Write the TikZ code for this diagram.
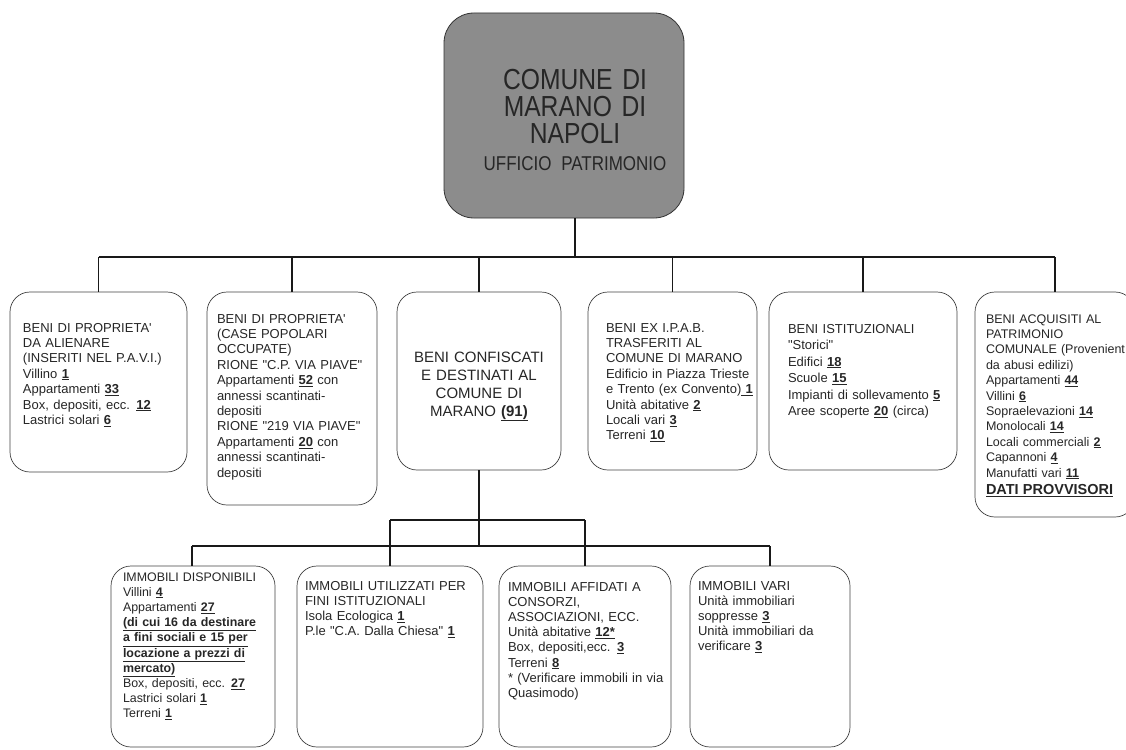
\documentclass[tikz,border=0pt]{standalone}
\usepackage{fontspec}
\setmainfont{Liberation Sans}[Ligatures=TeXOff]
\newfontfamily\titlefont{Liberation Sans}[FakeStretch=0.85, WordSpace=0.7]

\newcommand{\ubf}[1]{\underline{\textbf{#1}}}

\begin{document}
\begin{tikzpicture}[x=1pt, y=-1pt,
  every node/.style={inner sep=0pt, outer sep=0pt, text=black!85},
  rootbox/.style={draw=black!80, line width=0.8pt, rounded corners=30pt,
    fill=black!45, anchor=north west},
  levelbox/.style={draw=black!75, line width=0.7pt, rounded corners=20pt,
    anchor=north west},
  boxtext/.style={anchor=base west, align=left, text width=200pt,
    font=\fontsize{13}{15.4}\selectfont},
  link/.style={draw=black!90, line width=1.6pt}]

\useasboundingbox (0,0) rectangle (1126,749);

% root
\node[rootbox, minimum width=240, minimum height=205] (comune) at (444,13) {};
\node[anchor=base, align=center, text width=240pt,
  font=\titlefont\fontsize{29}{26.7}\selectfont] (comune-text) at (575,90)
  {COMUNE DI\\MARANO DI\\NAPOLI\\{\fontsize{20}{22}\selectfont UFFICIO PATRIMONIO}};

% first level
\node[levelbox, minimum width=177, minimum height=180] (alienare) at (10,292) {};
\node[boxtext] (alienare-text) at (23,332)
  {BENI DI PROPRIETA'\\DA ALIENARE\\(INSERITI NEL P.A.V.I.)\\Villino \ubf{1}\\
   Appartamenti \ubf{33}\\Box, depositi, ecc. \ubf{12}\\Lastrici solari \ubf{6}};

\node[levelbox, minimum width=170, minimum height=213] (popolari) at (207,292) {};
\node[boxtext] (popolari-text) at (217,323)
  {BENI DI PROPRIETA'\\(CASE POPOLARI\\OCCUPATE)\\RIONE "C.P. VIA PIAVE"\\
   Appartamenti \ubf{52} con\\annessi scantinati-\\depositi\\RIONE "219 VIA PIAVE"\\
   Appartamenti \ubf{20} con\\annessi scantinati-\\depositi};

\node[levelbox, minimum width=164, minimum height=178] (confiscati) at (397,292) {};
\node[anchor=base, align=center, text width=160pt,
  font=\fontsize{15}{18}\selectfont] (confiscati-text) at (479,362)
  {BENI CONFISCATI\\E DESTINATI AL\\COMUNE DI\\MARANO \ubf{(91)}};

\node[levelbox, minimum width=169, minimum height=178] (ipab) at (588,292) {};
\node[boxtext] (ipab-text) at (606,332)
  {BENI EX I.P.A.B.\\TRASFERITI AL\\COMUNE DI MARANO\\Edificio in Piazza Trieste\\
   e Trento (ex Convento)\underline{ \textbf{1}}\\Unità abitative \ubf{2}\\
   Locali vari \ubf{3}\\Terreni \ubf{10}};

\node[levelbox, minimum width=188, minimum height=178] (storici) at (769,292) {};
\node[boxtext, font=\fontsize{13}{16.5}\selectfont] (storici-text) at (788,333)
  {BENI ISTITUZIONALI\\"Storici"\\Edifici \ubf{18}\\Scuole \ubf{15}\\
   Impianti di sollevamento \ubf{5}\\Aree scoperte \ubf{20} (circa)};

\node[levelbox, minimum width=160, minimum height=225] (acquisiti) at (975,292) {};
\node[boxtext, font=\fontsize{12.5}{15.4}\selectfont] (acquisiti-text) at (986,323)
  {BENI ACQUISITI AL\\PATRIMONIO\\COMUNALE (Provenient\\da abusi edilizi)\\
   Appartamenti \ubf{44}\\Villini \ubf{6}\\Sopraelevazioni \ubf{14}\\Monolocali \ubf{14}\\
   Locali commerciali \ubf{2}\\Capannoni \ubf{4}\\Manufatti vari \ubf{11}\\[2pt]
   {\fontsize{14.5}{17}\selectfont\ubf{DATI PROVVISORI}}};

% second level
\node[levelbox, minimum width=164, minimum height=181] (disponibili) at (111,566) {};
\node[boxtext, font=\fontsize{12.4}{15.2}\selectfont] (disponibili-text) at (123,581)
  {IMMOBILI DISPONIBILI\\Villini \ubf{4}\\Appartamenti \ubf{27}\\
   \ubf{(di cui 16 da destinare}\\\ubf{a fini sociali e 15 per}\\
   \ubf{locazione a prezzi di}\\\ubf{mercato)}\\Box, depositi, ecc. \ubf{27}\\
   Lastrici solari \ubf{1}\\Terreni \ubf{1}};

\node[levelbox, minimum width=186, minimum height=181] (utilizzati) at (297,566) {};
\node[boxtext, font=\fontsize{13}{15.2}\selectfont] (utilizzati-text) at (305,590)
  {IMMOBILI UTILIZZATI PER\\FINI ISTITUZIONALI\\Isola Ecologica \ubf{1}\\
   P.le "C.A. Dalla Chiesa" \ubf{1}};

\node[levelbox, minimum width=172, minimum height=181] (affidati) at (499,566) {};
\node[boxtext, font=\fontsize{13}{15.2}\selectfont] (affidati-text) at (508,591)
  {IMMOBILI AFFIDATI A\\CONSORZI,\\ASSOCIAZIONI, ECC.\\Unità abitative \ubf{12*}\\
   Box, depositi,ecc. \ubf{3}\\Terreni \ubf{8}\\{*} (Verificare immobili in via\\Quasimodo)};

\node[levelbox, minimum width=160, minimum height=181] (vari) at (690,566) {};
\node[boxtext, font=\fontsize{13}{15.2}\selectfont] (vari-text) at (698,590)
  {IMMOBILI VARI\\Unità immobiliari\\soppresse \ubf{3}\\Unità immobiliari da\\
   verificare \ubf{3}};

% connectors, first level
\coordinate (bar1) at (575,257);
\draw[link] (comune.south -| bar1) -- (bar1);
\draw[link] (alienare.north |- bar1) -- (acquisiti.north |- bar1);
\foreach \b in {alienare,popolari,confiscati,ipab,storici,acquisiti}
  \draw[link] (\b.north |- bar1) -- (\b.north);

% connectors, second level
\coordinate (bar2) at (479,546);
\coordinate (d1) at (192,546);
\coordinate (d2) at (390,520);
\coordinate (d3) at (585,520);
\coordinate (d4) at (770,546);
\draw[link] (confiscati.south -| bar2) -- (bar2);
\draw[link] (d1) -- (d4);
\draw[link] (d2) -- (d3);
\draw[link] (d1) -- (d1 |- disponibili.north);
\draw[link] (d2) -- (d2 |- utilizzati.north);
\draw[link] (d3) -- (d3 |- affidati.north);
\draw[link] (d4) -- (d4 |- vari.north);
\end{tikzpicture}
\end{document}
